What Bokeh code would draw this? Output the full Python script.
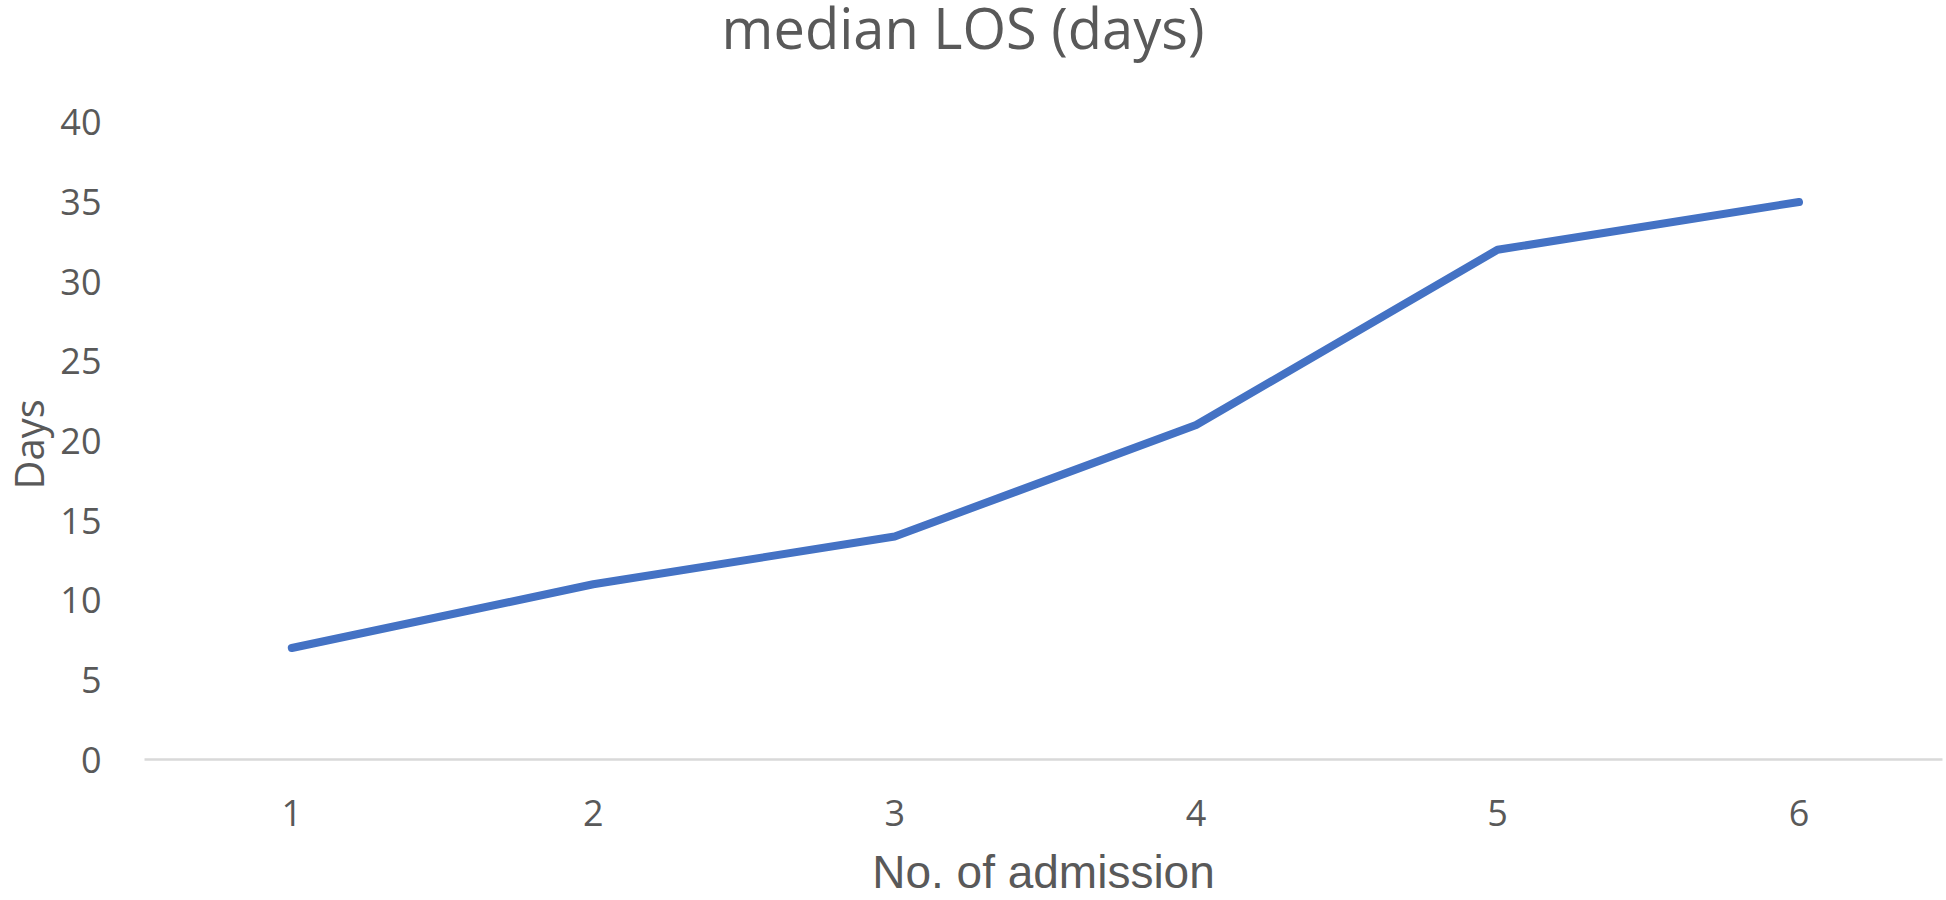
from bokeh.plotting import figure
from bokeh.models import Range1d, FixedTicker, Label, Title
from bokeh.embed import file_html
from bokeh.resources import INLINE

# Data
admissions = [1, 2, 3, 4, 5, 6]
median_los = [7, 11, 14, 21, 32, 35]
y_ticks = [0, 5, 10, 15, 20, 25, 30, 35, 40]
title_text = "median LOS (days)"
x_label = "No. of admission"
y_label = "Days"

TEXT = "#595959"

W, H = 1946, 900
BL, BR, BT, BB = 143, 4, 0, 140
PX_Y = 15.95          # pixels per day
PX_X = 301.6          # pixels per admission step
X0 = 0.5113
X1 = X0 + (W - BL - BR) / PX_X
Y0 = 0.0
Y1 = (H - BT - BB) / PX_Y

p = figure(
    width=W, height=H,
    output_backend="svg", toolbar_location=None,
    x_range=Range1d(X0, X1), y_range=Range1d(Y0, Y1),
    min_border_left=BL, min_border_right=BR, min_border_top=BT, min_border_bottom=BB,
)
p.outline_line_color = None
p.background_fill_color = "white"
p.border_fill_color = "white"
p.xgrid.visible = False
p.ygrid.visible = False

p.line(admissions, median_los, line_color="#4472C4", line_width=8,
       line_cap="round", line_join="round")

# X axis
xa = p.xaxis[0]
xa.ticker = FixedTicker(ticks=admissions)
xa.axis_line_color = "#D9D9D9"
xa.axis_line_width = 2.5
xa.major_tick_line_color = None
xa.minor_tick_line_color = None
xa.major_tick_out = 0
xa.major_tick_in = 0
xa.major_label_standoff = 40
xa.major_label_text_font = "Open Sans"
xa.major_label_text_font_size = "36px"
xa.major_label_text_color = TEXT
xa.axis_label = x_label
xa.axis_label_text_font = "Liberation Sans"
xa.axis_label_text_font_size = "46px"
xa.axis_label_text_font_style = "normal"
xa.axis_label_text_color = TEXT
xa.axis_label_standoff = 17

# Y axis
ya = p.yaxis[0]
ya.ticker = FixedTicker(ticks=y_ticks)
ya.axis_line_color = None
ya.major_tick_line_color = None
ya.minor_tick_line_color = None
ya.major_tick_out = 0
ya.major_tick_in = 0
ya.major_label_standoff = 43
ya.major_label_text_font = "Open Sans"
ya.major_label_text_font_size = "36px"
ya.major_label_text_color = TEXT

# Y axis title in the left panel
p.add_layout(Title(
    text=y_label, align="left", offset=270, standoff=0, vertical_align="top",
    text_font="Open Sans", text_font_size="40px", text_font_style="normal",
    text_color=TEXT,
), "left")

# Chart title inside the (extended) frame
p.add_layout(Label(
    x=X0 + (962 - BL) / PX_X, y=(H - BB - 27) / PX_Y,
    text=title_text, text_font="Open Sans", text_font_size="56px",
    text_color=TEXT, text_align="center", text_baseline="alphabetic",
))

open("out.html", "w").write(file_html(p, INLINE))
